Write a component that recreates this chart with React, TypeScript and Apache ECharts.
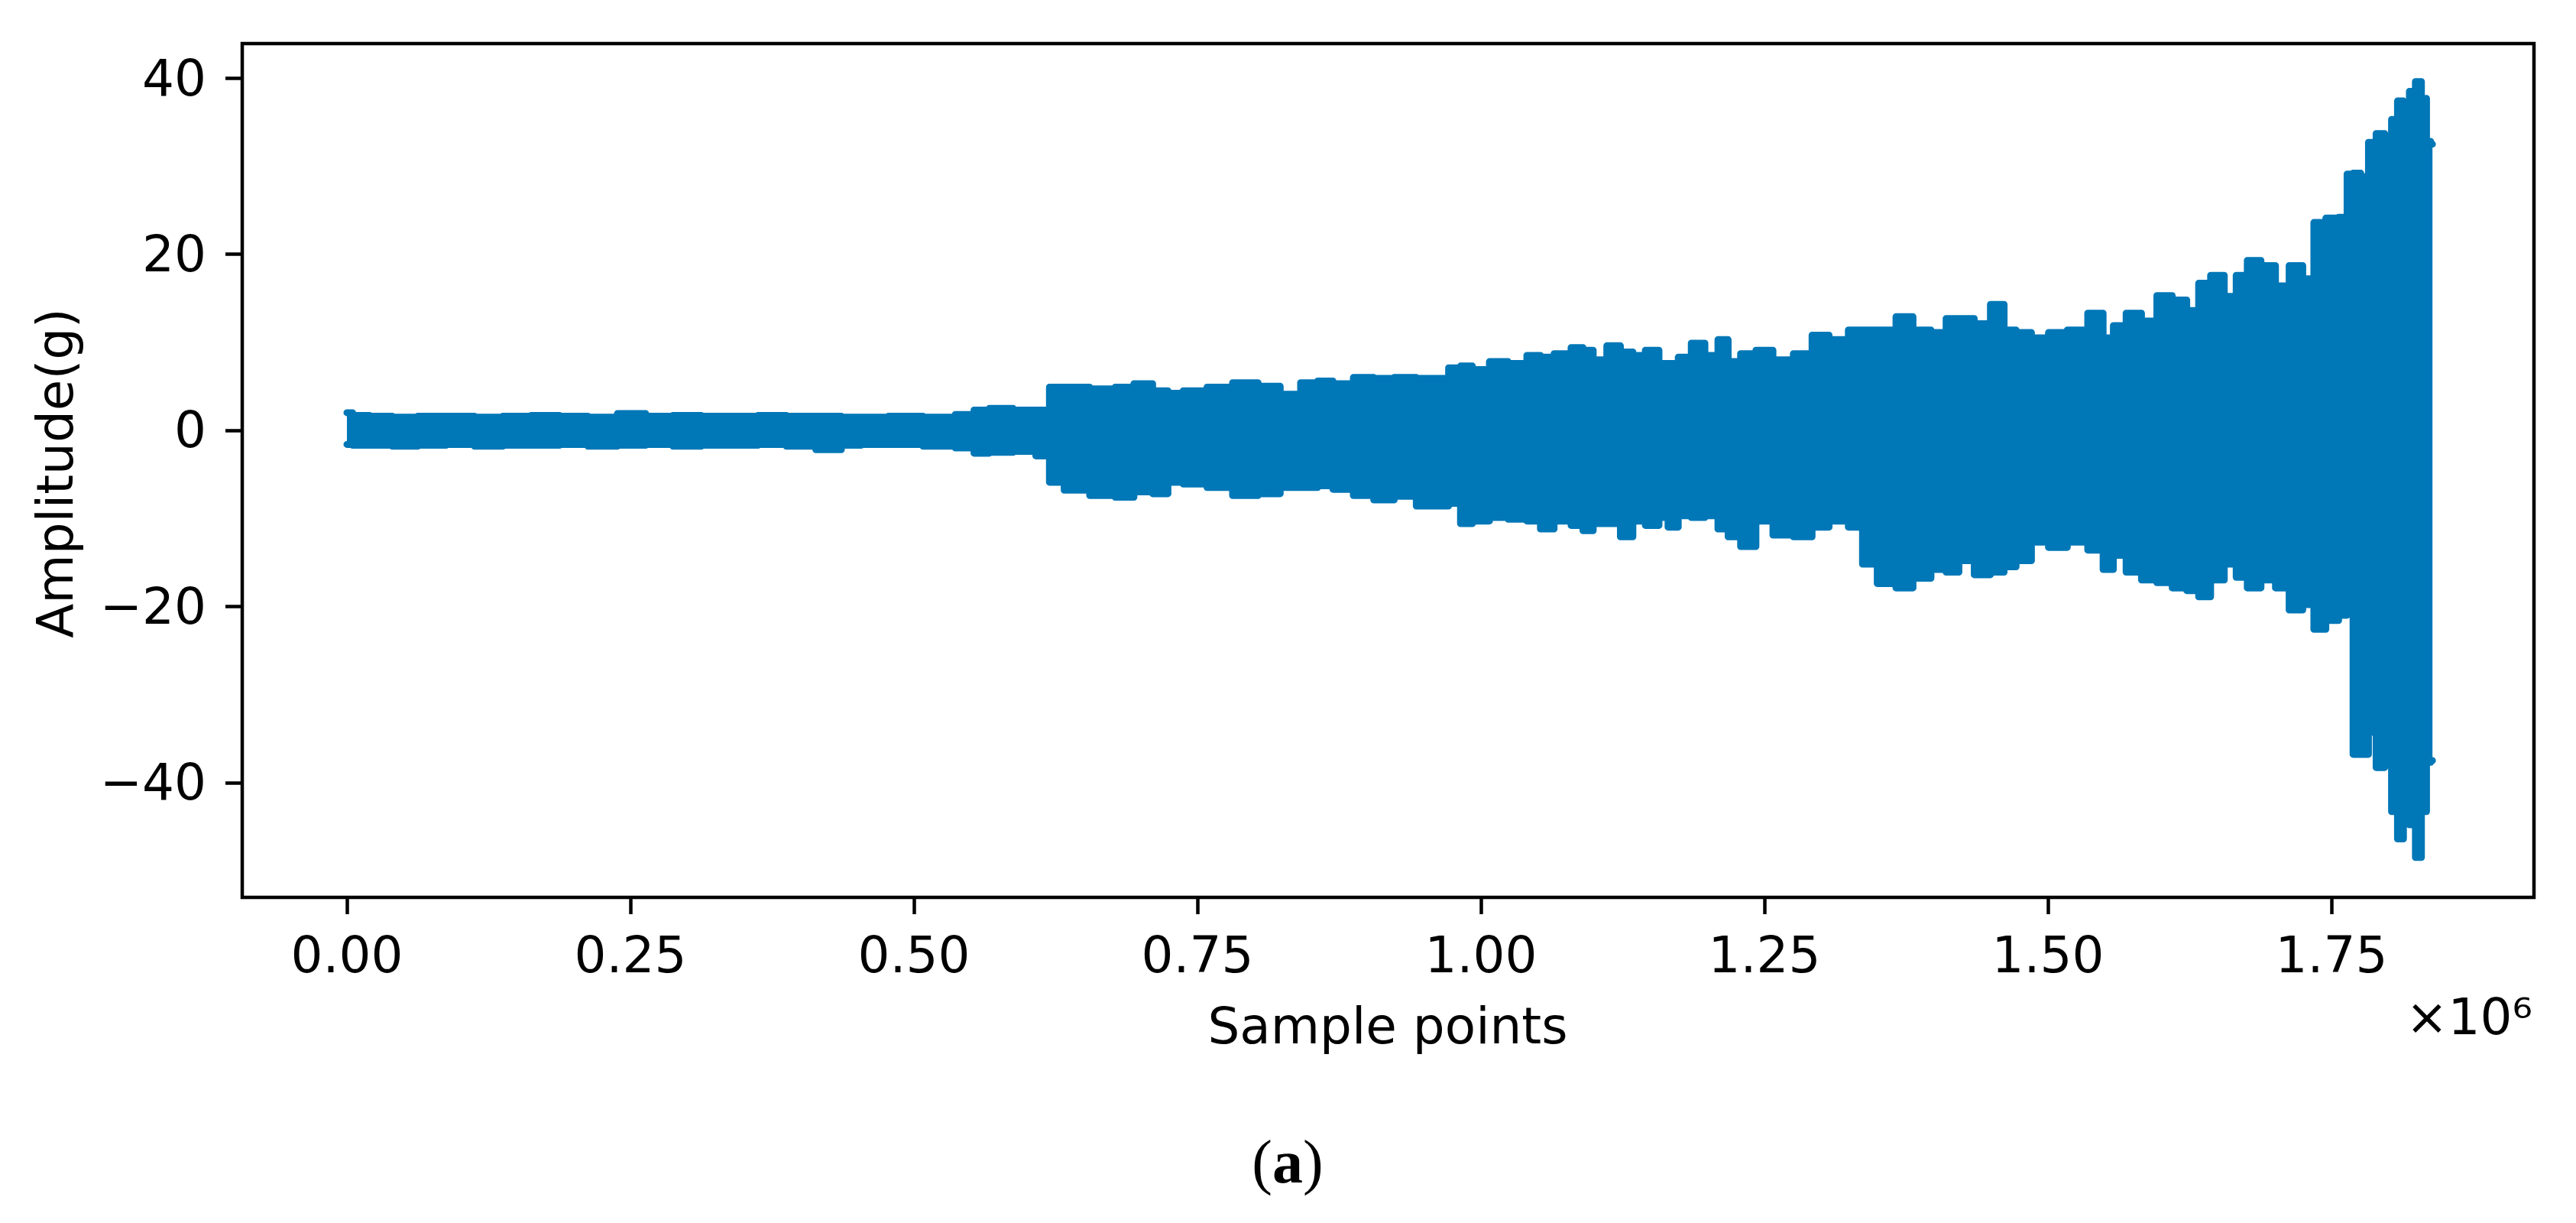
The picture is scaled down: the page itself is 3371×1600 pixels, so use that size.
import React, { useEffect, useRef } from "react";
import * as echarts from "echarts";

// Envelope of the vibration signal (x in millions of samples)
const sampleMillions = [
  0.0, 0.01, 0.03, 0.05, 0.075, 0.1, 0.125, 0.15, 0.175, 0.2, 0.225, 0.252, 0.275, 0.3, 0.325, 0.35, 0.375, 0.4, 0.427, 0.445,
  0.462, 0.493, 0.523, 0.55, 0.556, 0.577, 0.598, 0.617, 0.622, 0.643, 0.667, 0.688, 0.7, 0.721, 0.727, 0.748, 0.769, 0.793,
  0.814, 0.832, 0.85, 0.862, 0.877, 0.898, 0.913,
  0.934, 0.952, 0.964, 0.979, 0.985, 1.0, 1.015, 1.033, 1.048, 1.057, 1.072, 1.087, 1.093, 1.105, 1.117, 1.129, 1.139, 1.151,
  1.163, 1.167, 1.181, 1.19, 1.205, 1.213, 1.223, 1.235, 1.25, 1.265, 1.286, 1.298, 1.316, 1.332, 1.341, 1.358, 1.374, 1.388,
  1.4057, 1.4147, 1.4283, 1.4418, 1.4568, 1.4659, 1.4779, 1.493, 1.508, 1.5261, 1.5441, 1.5532, 1.5622, 1.5757, 1.5893,
  1.6028, 1.6164, 1.6284, 1.6374, 1.6495, 1.6615, 1.6705, 1.6811, 1.6946, 1.7067, 1.7187, 1.7307, 1.7383, 1.7518, 1.7608,
  1.7668, 1.7713, 1.7804, 1.7849, 1.7939, 1.8, 1.806, 1.8105, 1.8165, 1.821, 1.8271, 1.8316, 1.8361, 1.8391,
];
const upperEnv = [
  2.0, 1.7, 1.6, 1.5, 1.6, 1.6, 1.5, 1.6, 1.7, 1.6, 1.5, 1.9, 1.6, 1.7, 1.6, 1.6, 1.7, 1.6, 1.6, 1.5,
  1.5, 1.6, 1.5, 1.8, 2.3, 2.5, 2.3, 2.3, 4.9, 4.9, 4.7, 4.9, 5.3, 4.5, 4.2, 4.5, 4.9, 5.4,
  5.0, 4.1, 5.4, 5.6, 5.3, 6.0, 5.9,
  6.0, 5.9, 5.9, 7.1, 7.3, 6.9, 7.8, 7.6, 8.5, 8.3, 8.7, 9.4, 9.1, 8.0, 9.6, 8.9, 8.5, 9.1,
  7.6, 7.6, 8.3, 9.9, 8.5, 10.3, 7.8, 8.7, 9.1, 8.0, 8.7, 10.8, 10.3, 11.4, 11.4, 11.4, 12.9, 11.4,
  11.1, 12.7, 12.7, 12.1, 14.3, 11.4, 11.1, 10.5, 11.1, 11.4, 13.3, 10.5, 11.9, 13.3, 12.4,
  15.3, 14.8, 13.6, 16.7, 17.6, 15.2, 17.6, 19.3, 18.7, 16.4, 18.7, 17.2, 23.6, 24.1, 24.2,
  29.1, 29.2, 28.8, 32.7, 33.7, 28.0, 35.3, 37.4, 34.6, 38.5, 39.6, 37.7, 32.8, 32.5,
];
const lowerEnv = [
  -1.6, -1.7, -1.7, -1.8, -1.7, -1.6, -1.8, -1.7, -1.7, -1.6, -1.8, -1.7, -1.6, -1.8, -1.7, -1.7, -1.6, -1.8, -2.2, -1.7,
  -1.6, -1.6, -1.8, -2.0, -2.6, -2.5, -2.4, -2.9, -5.9, -6.8, -7.4, -7.6, -7.0, -7.2, -5.9, -6.1, -6.5, -7.4,
  -7.2, -6.5, -6.5, -6.3, -6.7, -7.4, -7.9,
  -7.5, -8.6, -8.6, -8.3, -10.6, -10.3, -9.9, -10.1, -10.3, -11.2, -10.3, -10.8, -11.4, -10.6, -10.6, -12.1, -10.3, -10.8,
  -9.9, -11.0, -9.7, -9.9, -9.7, -11.2, -12.1, -13.2, -10.3, -11.9, -12.1, -11.0, -10.3, -11.0, -15.2, -17.4, -17.9, -16.8,
  -15.8, -16.1, -14.8, -16.4, -16.1, -15.5, -14.8, -12.7, -13.3, -12.7, -13.6, -15.8, -14.2, -16.1, -17.0,
  -17.3, -17.9, -18.2, -18.9, -17.0, -15.2, -16.7, -17.9, -17.0, -17.9, -20.4, -19.8, -22.6, -21.6, -21.0,
  -20.7, -36.8, -36.8, -34.3, -38.3, -36.8, -43.3, -46.4, -40.5, -44.8, -48.5, -43.3, -37.7, -37.5,
];

const xTickMillions = [0, 0.25, 0.5, 0.75, 1.0, 1.25, 1.5, 1.75];
const yTicks = [-40, -20, 0, 20, 40];

const BLUE = "#0077b7";
const FONT = "DejaVu Sans";

export default function App() {
  const ref = useRef<HTMLDivElement>(null);

  useEffect(() => {
    document.body.style.margin = "0";
    const chart = echarts.init(ref.current!, null, { renderer: "svg" });

    const upperData = sampleMillions.map((x, i) => [x * 1e6, upperEnv[i]]);
    const lowerData = sampleMillions.map((x, i) => [x * 1e6, lowerEnv[i]]);
    const xTickVals = xTickMillions.map((v) => v * 1e6);

    const labelStyle = { fontSize: 66, fontFamily: FONT, color: "#000" };
    const tickStyle = { show: true, length: 22, lineStyle: { color: "#000", width: 4.5 } };

    const lineSeries = (name: string, data: number[][]) => ({
      name,
      type: "line",
      data,
      step: "middle",
      symbol: "none",
      silent: true,
      lineStyle: { color: BLUE, width: 9, cap: "round", join: "round" },
      areaStyle: { color: BLUE, opacity: 1 },
      z: 2,
    });

    chart.setOption({
      animation: false,
      backgroundColor: "#fff",
      grid: {
        left: 317,
        top: 57,
        width: 2999,
        height: 1117,
        show: true,
        borderColor: "#000",
        borderWidth: 4.5,
        backgroundColor: "transparent",
      },
      xAxis: {
        type: "value",
        min: -92300,
        max: 1928600,
        position: "bottom",
        axisLine: { show: false, onZero: false },
        splitLine: { show: false },
        axisTick: { ...tickStyle, customValues: xTickVals },
        axisLabel: {
          ...labelStyle,
          margin: 42,
          customValues: xTickVals,
          formatter: (v: number) => (v / 1e6).toFixed(2),
        },
      },
      yAxis: {
        type: "value",
        min: -53.04,
        max: 43.92,
        position: "left",
        axisLine: { show: false, onZero: false },
        splitLine: { show: false },
        axisTick: { ...tickStyle, customValues: yTicks },
        axisLabel: {
          ...labelStyle,
          margin: 47,
          customValues: yTicks,
          formatter: (v: number) => (v < 0 ? "\u2212" + Math.abs(v) : String(v)),
        },
      },
      series: [lineSeries("upper", upperData), lineSeries("lower", lowerData)],
      graphic: [
        {
          type: "text",
          x: 72,
          y: 619,
          rotation: Math.PI / 2,
          style: {
            text: "Amplitude(g)",
            fontSize: 66,
            fontFamily: FONT,
            fill: "#000",
            textAlign: "center",
            textVerticalAlign: "middle",
            align: "center",
            verticalAlign: "middle",
          },
        },
        {
          type: "text",
          x: 1816,
          y: 1342,
          style: {
            text: "Sample points",
            fontSize: 66,
            fontFamily: FONT,
            fill: "#000",
            textAlign: "center",
            textVerticalAlign: "middle",
            align: "center",
            verticalAlign: "middle",
          },
        },
        {
          type: "text",
          x: 3314,
          y: 1330,
          style: {
            text: "\u00d710\u2076",
            fontSize: 66,
            fontFamily: FONT,
            fill: "#000",
            textAlign: "right",
            textVerticalAlign: "middle",
            align: "right",
            verticalAlign: "middle",
          },
        },
        {
          type: "text",
          x: 1685,
          y: 1520,
          style: {
            text: "{p|(}{b|a}{p|)}",
            fill: "#000",
            textAlign: "center",
            textVerticalAlign: "middle",
            align: "center",
            verticalAlign: "middle",
            rich: {
              p: { fontFamily: "Liberation Serif", fontSize: 80, fill: "#000" },
              b: { fontFamily: "Liberation Serif", fontSize: 80, fontWeight: "bold", fill: "#000" },
            },
          },
        },
      ],
    });

    return () => chart.dispose();
  }, []);

  return (
    <div
      ref={ref}
      style={{ position: "absolute", left: 0, top: 0, width: 3371, height: 1600, background: "#fff" }}
    />
  );
}
